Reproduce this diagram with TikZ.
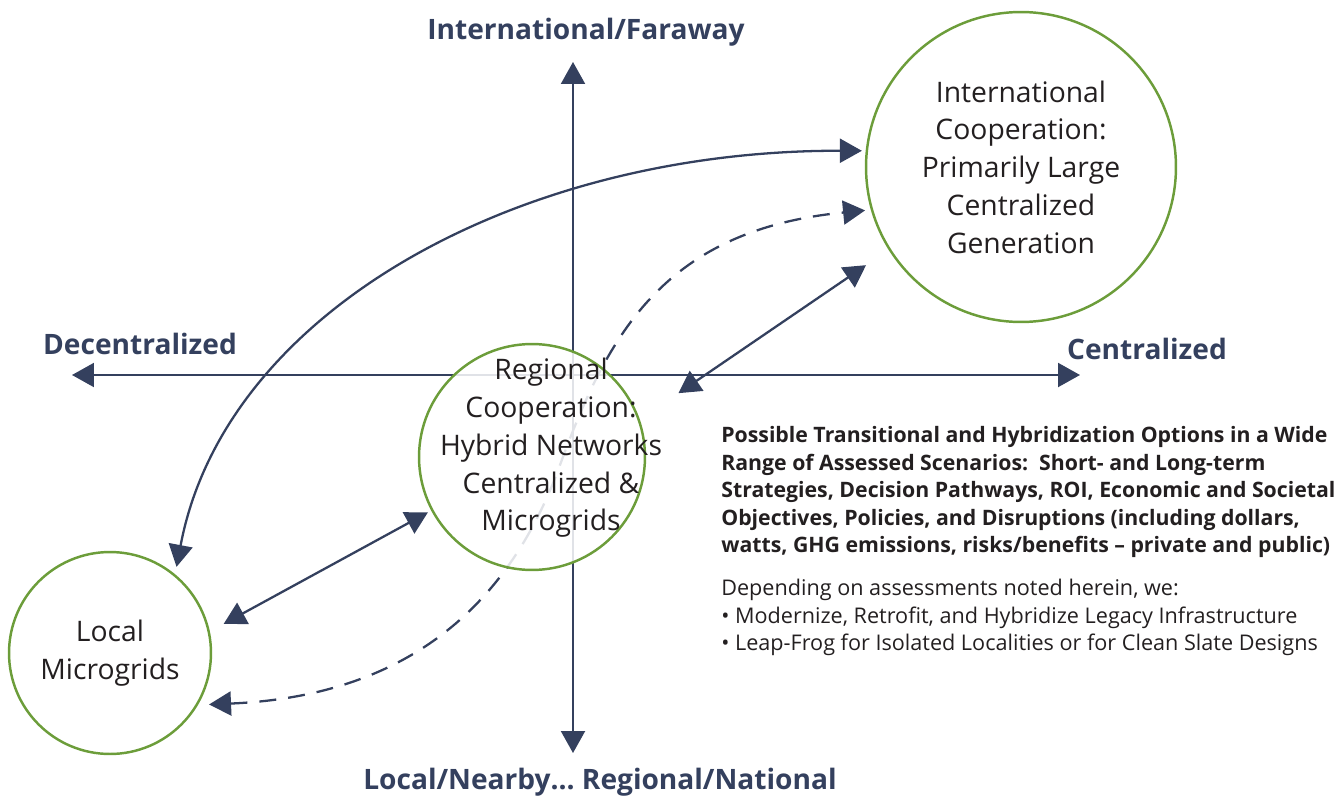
\documentclass[tikz,border=0pt]{standalone}
\usepackage{fontspec}
\setmainfont{Open Sans}
\usetikzlibrary{arrows.meta}
\definecolor{navy}{RGB}{52,64,94}
\definecolor{leaf}{RGB}{108,157,58}
\definecolor{ink}{RGB}{35,31,32}
\pgfdeclarelayer{back}
\pgfsetlayers{back,main}

\begin{document}
\begin{tikzpicture}[x=0.02cm, y=-0.02cm,
    hub/.style={circle, draw=leaf, line width=1.4pt, inner sep=0pt, outer sep=0pt},
    hubtext/.style={align=center, text=ink, text opacity=1, font=\fontsize{16.1}{21.5}\selectfont},
    axislabel/.style={text=navy, font=\fontsize{16}{20}\selectfont\bfseries},
    axis/.style={navy, line width=1.2pt, {Triangle[length=0.44cm, width=0.48cm]}-{Triangle[length=0.44cm, width=0.48cm]}},
    link/.style={navy, line width=1.3pt, {Triangle[length=0.44cm, width=0.48cm]}-{Triangle[length=0.44cm, width=0.48cm]}},
    notes/.style={align=left, text=ink, inner sep=0pt, anchor=north west}]
\useasboundingbox (0,0) rectangle (1339,801);

    \node[hub, minimum size=6.2cm,
        label={[hubtext]center:International\\Cooperation:\\Primarily Large\\Centralized\\Generation}] (intl) at (1021,167) {};
    \node[hub, minimum size=4.52cm, fill=white, fill opacity=0.85,
        label={[hubtext, xshift=0.38cm, yshift=0.18cm]center:Regional\\Cooperation:\\Hybrid Networks\\Centralized \&\\Microgrids}] (regional) at (532,457) {};
    \node[hub, minimum size=4.04cm,
        label={[hubtext]center:Local\\Microgrids}] (local) at (110,653) {};

    \node[axislabel] (far) at (586,32) {International/Faraway};
    \node[axislabel] (decentral) at (140,344) {Decentralized};
    \node[axislabel] (central) at (1147,349) {Centralized};
    \node[axislabel] (near) at (600,782) {Local/Nearby… Regional/National};

    \node[notes, font=\fontsize{12.1}{15.7}\selectfont\bfseries] (question) at (721,426)
        {Possible Transitional and Hybridization Options in a Wide\\
        Range of Assessed Scenarios:\ \ Short- and Long-term\\
        Strategies, Decision Pathways, ROI, Economic and Societal\\
        Objectives, Policies, and Disruptions (including dollars,\\
        watts, GHG emissions, risks/benefits – private and public)};
    \node[notes, font=\fontsize{12.3}{15.6}\selectfont] (answer) at (721,579)
        {Depending on assessments noted herein, we:\\
        • Modernize, Retrofit, and Hybridize Legacy Infrastructure\\
        • Leap-Frog for Isolated Localities or for Clean Slate Designs};

    \coordinate (west) at (72,375);
    \coordinate (east) at (1080,375);
    \coordinate (top) at (573,62);
    \coordinate (bottom) at (573,753);

\begin{pgfonlayer}{back}
    \draw[axis] (west) -- (east);
    \draw[axis] (top) -- (bottom);
    \draw[link, shorten <=0.18cm, shorten >=0.1cm] (local.50.5) .. controls (225,310) and (520,150) .. (intl.174.6);
    \draw[link, dash pattern=on 0.34cm off 0.24cm, shorten <=0.25cm, shorten >=0.14cm]
        (local.-31.3) .. controls (407,696) and (509,606) .. (560,465) .. controls (608,333) and (665,230) .. (intl.196.1);
    \draw[link, shorten <=0.34cm, shorten >=0.1cm] (local.12.7) -- (regional.208);
    \draw[link, shorten <=0.96cm, shorten >=0.57cm] (regional.19) -- (intl.212.3);
\end{pgfonlayer}
\end{tikzpicture}
\end{document}
